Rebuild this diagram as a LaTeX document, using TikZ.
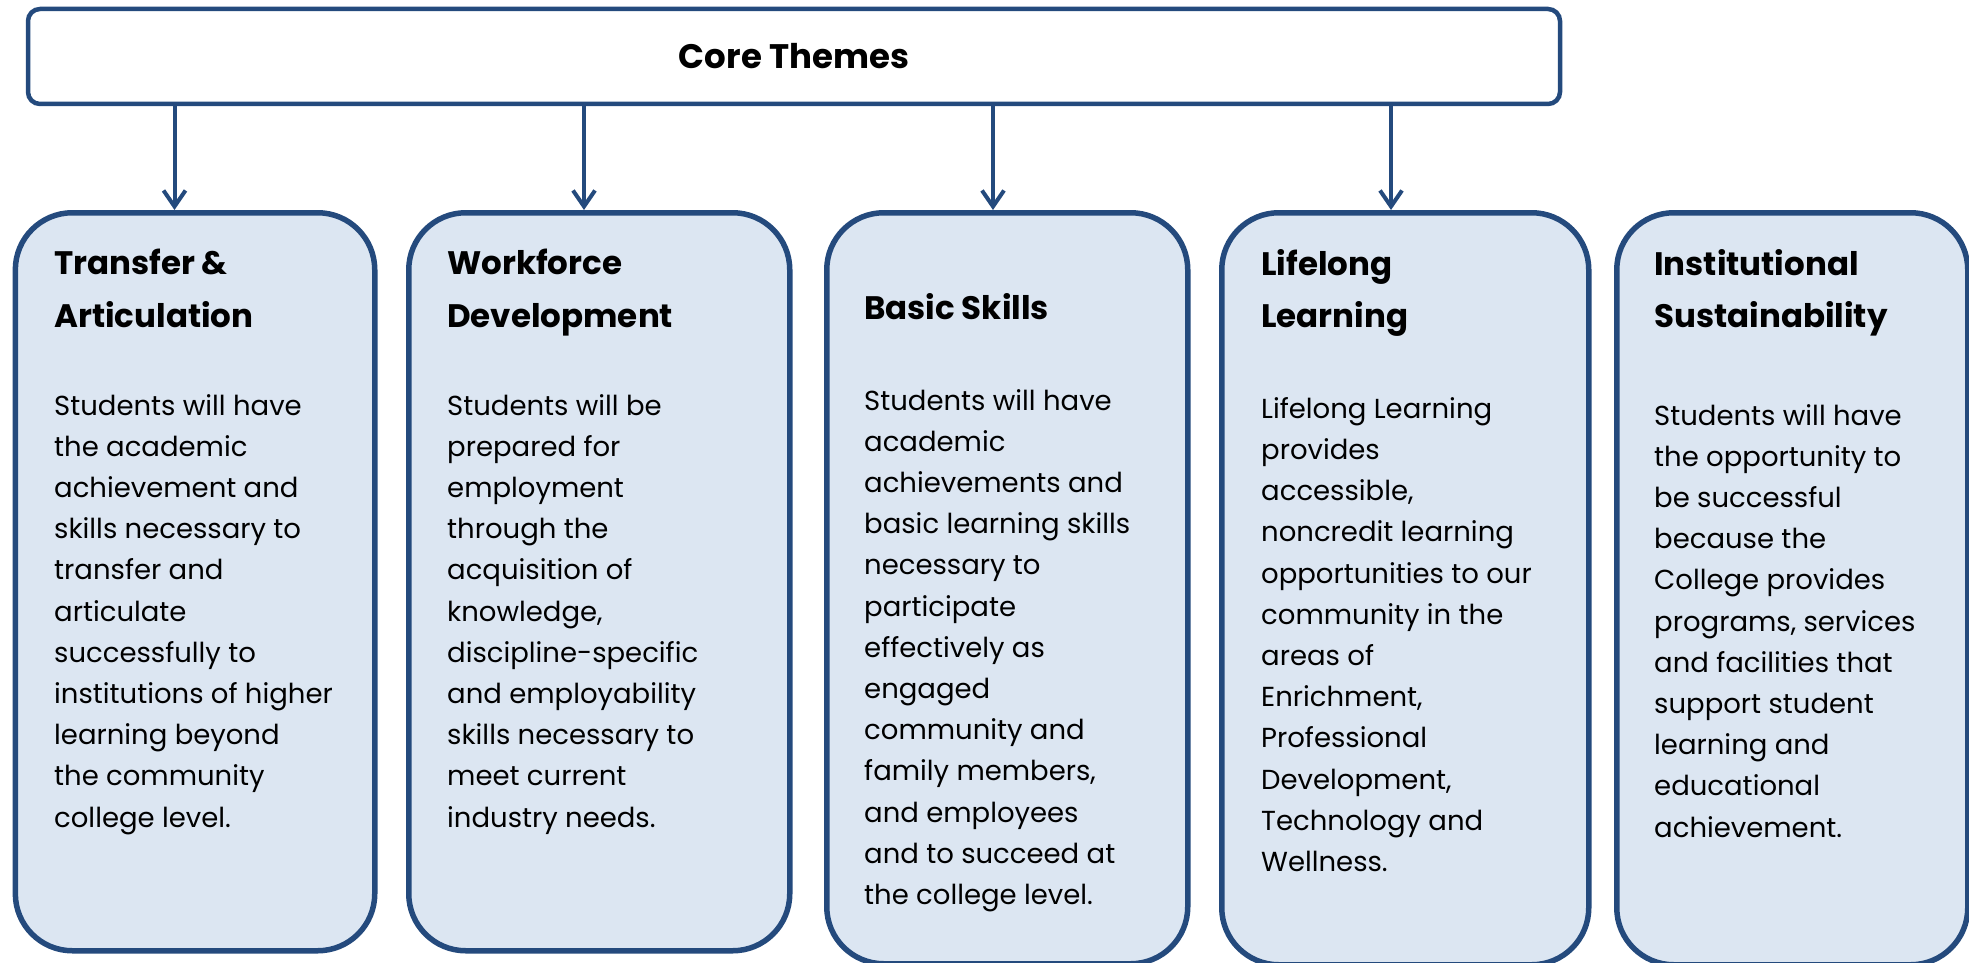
\documentclass[tikz,border=0pt]{standalone}
\usepackage{fontspec}
\setmainfont{Poppins}
\usetikzlibrary{arrows.meta}

\definecolor{themeblue}{RGB}{36,74,125}
\definecolor{themefill}{RGB}{220,230,242}

\tikzset{
  themebox/.style={draw=themeblue, line width=5.5pt, fill=themefill, rounded corners=57pt, inner sep=0pt, anchor=north west},
  corebox/.style={draw=themeblue, line width=4.5pt, fill=white, rounded corners=12pt, inner sep=0pt, minimum width=1532pt, minimum height=95pt, font=\bfseries\fontsize{34}{40}\selectfont},
  themetitle/.style={anchor=north west, inner sep=0pt, align=left, font=\bfseries\fontsize{32.5}{52.7}\selectfont},
  themetext/.style={anchor=north west, inner sep=0pt, align=left, font=\fontsize{27.5}{41.2}\selectfont},
  themearrow/.style={draw=themeblue, line width=4pt, -{Straight Barb[length=16pt,width=22pt]}}
}

\begin{document}
\begin{tikzpicture}[x=1pt,y=1pt,yscale=-1]
\useasboundingbox (0,0) rectangle (1969,963);
\clip (0,0) rectangle (1969,963);

%Shape: Core box
\node [corebox] (core) at (794,56.5) {Core Themes};

%Shape: Theme boxes
\node [themebox, minimum width=359.4pt, minimum height=738pt] (b1) at (12.6,210) {};
\node [themebox, minimum width=381pt, minimum height=738pt] (b2) at (406,210) {};
\node [themebox, minimum width=361pt, minimum height=751pt] (b3) at (824,210) {};
\node [themebox, minimum width=367pt, minimum height=752pt] (b4) at (1219,210) {};
\node [themebox, minimum width=351pt, minimum height=752pt] (b5) at (1614,210) {};

%Arrows
\coordinate (a1) at (174.5,0);
\coordinate (a2) at (584,0);
\coordinate (a3) at (993,0);
\coordinate (a4) at (1391,0);
\draw [themearrow] (core.south -| a1) -- (b1.north -| a1);
\draw [themearrow] (core.south -| a2) -- (b2.north -| a2);
\draw [themearrow] (core.south -| a3) -- (b3.north -| a3);
\draw [themearrow] (core.south -| a4) -- (b4.north -| a4);

% Text Node
\node [themetitle] (t1) at (54,249) {Transfer \&\\Articulation};
% Text Node
\node [themetext] (x1) at (54,394) {Students will have\\the academic\\achievement and\\skills necessary to\\transfer and\\articulate\\successfully to\\institutions of higher\\learning beyond\\the community\\college level.};
% Text Node
\node [themetitle] (t2) at (447,249) {Workforce\\Development};
% Text Node
\node [themetext] (x2) at (447,394) {Students will be\\prepared for\\employment\\through the\\acquisition of\\knowledge,\\discipline-specific\\and employability\\skills necessary to\\meet current\\industry needs.};
% Text Node
\node [themetitle] (t3) at (864,293) {Basic Skills};
% Text Node
\node [themetext] (x3) at (864,389) {Students will have\\academic\\achievements and\\basic learning skills\\necessary to\\participate\\effectively as\\engaged\\community and\\family members,\\and employees\\and to succeed at\\the college level.};
% Text Node
\node [themetitle] (t4) at (1261,249) {Lifelong\\Learning};
% Text Node
\node [themetext] (x4) at (1261,397) {Lifelong Learning\\provides\\accessible,\\noncredit learning\\opportunities to our\\community in the\\areas of\\Enrichment,\\Professional\\Development,\\Technology and\\Wellness.};
% Text Node
\node [themetitle] (t5) at (1654,249) {Institutional\\Sustainability};
% Text Node
\node [themetext] (x5) at (1654,404) {Students will have\\the opportunity to\\be successful\\because the\\College provides\\programs, services\\and facilities that\\support student\\learning and\\educational\\achievement.};

\end{tikzpicture}
\end{document}
